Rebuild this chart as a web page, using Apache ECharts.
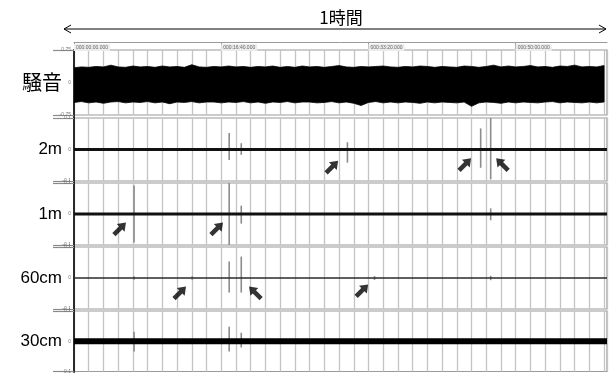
<!DOCTYPE html>
<html><head><meta charset="utf-8">
<script src="https://cdn.jsdelivr.net/npm/echarts@6/dist/echarts.min.js"></script>
<style>html,body{margin:0;padding:0;background:#fff}#c{width:613px;height:374px}</style>
</head><body><div id="c"></div>
<script>
// Recording length in seconds (a little over one hour is shown)
const timeMax = 3620;
const headerTicks = [0, 1000, 2000, 3000];
const headerLabels = ['000:00:00.000', '000:16:40.000', '000:33:20.000', '000:50:00.000'];

const panelNames = ['騒音', '2m', '1m', '60cm', '30cm'];
const panelRange = [0.75, 0.1, 0.1, 0.1, 0.1];
const panelRangeText = [['-0.75', '0', '0.75'], ['-0.1', '0', '0.1'], ['-0.1', '0', '0.1'], ['-0.1', '0', '0.1'], ['-0.1', '0', '0.1']];

// Ambient noise envelope, sampled every 50 s
const noiseTimes = [
  0, 50, 100, 150, 200, 250, 300, 350, 400, 450,
  500, 550, 600, 650, 700, 750, 800, 850, 900, 950,
  1000, 1050, 1100, 1150, 1200, 1250, 1300, 1350, 1400, 1450,
  1500, 1550, 1600, 1650, 1700, 1750, 1800, 1850, 1900, 1950,
  2000, 2050, 2100, 2150, 2200, 2250, 2300, 2350, 2400, 2450,
  2500, 2550, 2600, 2650, 2700, 2750, 2800, 2850, 2900, 2950,
  3000, 3050, 3100, 3150, 3200, 3250, 3300, 3350, 3400, 3450,
  3500, 3550, 3600];
const noiseUpper = [
  0.34, 0.36, 0.35, 0.37, 0.36, 0.40, 0.36, 0.35, 0.38, 0.36,
  0.37, 0.35, 0.38, 0.36, 0.37, 0.35, 0.41, 0.36, 0.35, 0.37,
  0.36, 0.38, 0.36, 0.37, 0.35, 0.37, 0.36, 0.38, 0.35, 0.37,
  0.35, 0.38, 0.36, 0.37, 0.35, 0.37, 0.39, 0.36, 0.35, 0.37,
  0.36, 0.37, 0.38, 0.36, 0.35, 0.37, 0.36, 0.38, 0.37, 0.35,
  0.37, 0.36, 0.35, 0.38, 0.37, 0.35, 0.37, 0.40, 0.36, 0.38,
  0.36, 0.37, 0.39, 0.36, 0.37, 0.35, 0.38, 0.37, 0.40, 0.36,
  0.37, 0.36, 0.39];
const noiseLower = [
  -0.46, -0.44, -0.47, -0.45, -0.48, -0.45, -0.44, -0.47, -0.45, -0.46,
  -0.44, -0.47, -0.45, -0.49, -0.45, -0.46, -0.44, -0.47, -0.45, -0.45,
  -0.47, -0.45, -0.46, -0.44, -0.47, -0.45, -0.48, -0.45, -0.46, -0.44,
  -0.47, -0.45, -0.45, -0.47, -0.46, -0.44, -0.47, -0.45, -0.48, -0.53,
  -0.46, -0.44, -0.47, -0.45, -0.47, -0.45, -0.46, -0.48, -0.45, -0.47,
  -0.45, -0.46, -0.47, -0.45, -0.55, -0.47, -0.45, -0.46, -0.48, -0.45,
  -0.47, -0.45, -0.46, -0.47, -0.45, -0.44, -0.47, -0.45, -0.46, -0.47,
  -0.45, -0.47, -0.45];

// Transient events per sensor: [time s, low, high]
const spikes2m = [[408, -0.004, 0.004], [1054, -0.033, 0.052], [1136, -0.017, 0.02], [1857, -0.042, 0.023], [2762, -0.058, 0.067], [2830, -0.095, 0.1]];
const spikes1m = [[408, -0.092, 0.092], [1054, -0.1, 0.1], [1136, -0.031, 0.027], [2830, -0.02, 0.018]];
const spikes60cm = [[408, -0.006, 0.006], [803, -0.006, 0.006], [1054, -0.047, 0.053], [1136, -0.047, 0.069], [2041, -0.006, 0.006], [2830, -0.007, 0.007]];
const spikes30cm = [[408, -0.034, 0.031], [1054, -0.034, 0.048], [1136, -0.021, 0.028]];

// Arrow markers: [time s, value, heading] (heading: 'ne' or 'nw')
const arrows2m = [[1753, -0.055, 'ne'], [2656, -0.047, 'ne'], [2908, -0.047, 'nw']];
const arrows1m = [[312, -0.047, 'ne'], [971, -0.047, 'ne']];
const arrows60cm = [[720, -0.047, 'ne'], [1230, -0.047, 'nw'], [1957, -0.04, 'ne']];

// Baseline trace widths per sensor
const baseWidth = [0, 3, 3, 1.6, 6];
const baseColor = ['#000', '#111', '#111', '#2a2a2a', '#000'];

const gridBoxes = [
  { top: 50, height: 65 },
  { top: 118, height: 63 },
  { top: 183, height: 62 },
  { top: 247, height: 62 },
  { top: 311, height: 61 }
];

const tinyFont = 'Liberation Sans';
const arrowPath = 'path://M6,0 L12,7 L8.5,7 L8.5,16 L3.5,16 L3.5,7 L0,7 Z';

const grids = gridBoxes.map(b => ({
  left: 74, right: 6, top: b.top, height: b.height,
  show: true, borderColor: '#9a9a9a', borderWidth: 1.2
}));
grids.push({ left: 74, right: 6, top: 50, bottom: 2 });

const xAxes = gridBoxes.map((b, i) => ({
  type: 'value', gridIndex: i, min: 0, max: timeMax, interval: 100,
  axisLine: { show: false }, axisTick: { show: false }, axisLabel: { show: false },
  splitLine: { show: true, lineStyle: { color: '#c4c4c4', width: 1.3 } }
}));
// header time ruler above the noise trace
xAxes.push({
  type: 'value', gridIndex: 0, position: 'top', offset: 8, min: 0, max: timeMax,
  axisLine: { show: true, lineStyle: { color: '#9a9a9a', width: 1 } },
  axisTick: { show: true, customValues: headerTicks, inside: true, length: 7, lineStyle: { color: '#9a9a9a' } },
  splitLine: { show: false },
  axisLabel: {
    show: true, inside: true, customValues: headerTicks, align: 'left', margin: 2,
    fontSize: 5, fontFamily: tinyFont, color: '#666',
    backgroundColor: '#ececec', padding: [1, 2],
    formatter: v => headerLabels[headerTicks.indexOf(v)]
  }
});
// frame axis for the continuous left rule
xAxes.push({ type: 'value', gridIndex: 5, show: false, min: 0, max: 1 });

const yAxes = gridBoxes.map((b, i) => {
  const r = panelRange[i];
  return {
    type: 'value', gridIndex: i, min: -r, max: r,
    name: panelNames[i], nameLocation: 'middle', nameRotate: 0, nameGap: 12,
    nameMoveOverlap: false,
    nameTextStyle: {
      fontSize: i === 0 ? 20 : 17, color: '#000', align: 'right',
      fontFamily: i === 0 ? 'Noto Sans CJK JP' : 'Liberation Sans'
    },
    axisLine: { show: false },
    axisTick: { show: true, customValues: [-r, r], length: 21, lineStyle: { color: '#8a8a8a', width: 1.2 } },
    splitLine: { show: false },
    axisLabel: {
      show: true, customValues: [-r, 0, r], margin: 3, fontSize: 5, fontFamily: tinyFont, color: '#777',
      formatter: v => panelRangeText[i][v < 0 ? 0 : (v > 0 ? 2 : 1)]
    }
  };
});
yAxes.push({
  type: 'value', gridIndex: 5, min: 0, max: 1,
  axisLine: { show: true, lineStyle: { color: '#2a2a2a', width: 2 } },
  axisTick: { show: false }, axisLabel: { show: false }, splitLine: { show: false }
});

const series = [];

// ambient noise band drawn as one polygon through the envelope
series.push({
  type: 'custom', xAxisIndex: 0, yAxisIndex: 0, clip: true, silent: true,
  data: [[0, 0]],
  renderItem: (params, api) => {
    const pts = [];
    noiseTimes.forEach((t, k) => pts.push(api.coord([t, noiseUpper[k]])));
    for (let k = noiseTimes.length - 1; k >= 0; k--) pts.push(api.coord([noiseTimes[k], noiseLower[k]]));
    return { type: 'polygon', shape: { points: pts }, style: { fill: '#000', stroke: '#000', lineWidth: 0.8 } };
  }
});

// sensor baselines
for (let i = 1; i < 5; i++) {
  series.push({
    type: 'line', xAxisIndex: i, yAxisIndex: i, showSymbol: false, silent: true,
    data: [[0, 0], [timeMax, 0]],
    lineStyle: { color: baseColor[i], width: baseWidth[i] }
  });
}

const spikeSets = [null, spikes2m, spikes1m, spikes60cm, spikes30cm];
for (let i = 1; i < 5; i++) {
  series.push({
    type: 'custom', xAxisIndex: i, yAxisIndex: i, clip: true, silent: true,
    data: spikeSets[i],
    encode: { x: 0, y: [1, 2] },
    renderItem: (params, api) => {
      const a = api.coord([api.value(0), api.value(1)]);
      const b = api.coord([api.value(0), api.value(2)]);
      return { type: 'line', shape: { x1: a[0], y1: a[1], x2: b[0], y2: b[1] }, style: { stroke: '#8c8c8c', lineWidth: 1.6 } };
    }
  });
}

const arrowSets = [null, arrows2m, arrows1m, arrows60cm, null];
for (let i = 1; i < 4; i++) {
  series.push({
    type: 'scatter', xAxisIndex: i, yAxisIndex: i, silent: true,
    symbol: arrowPath, symbolSize: [11, 17],
    itemStyle: { color: '#000' },
    data: arrowSets[i].map(a => ({ value: [a[0], a[1]], symbolRotate: a[2] === 'ne' ? -45 : 45 }))
  });
}

const chart = echarts.init(document.getElementById('c'), null, { renderer: 'canvas' });
chart.setOption({
  animation: false,
  backgroundColor: '#fff',
  grid: grids,
  xAxis: xAxes,
  yAxis: yAxes,
  series: series,
  graphic: [
    { type: 'text', style: { x: 341, y: 18, text: '1時間', textAlign: 'center', textVerticalAlign: 'middle', font: '17px "Noto Sans CJK JP"', fill: '#000' } },
    { type: 'line', shape: { x1: 64, y1: 29, x2: 606, y2: 29 }, style: { stroke: '#000', lineWidth: 1 } },
    { type: 'polyline', shape: { points: [[71, 25], [64, 29], [71, 33]] }, style: { stroke: '#000', lineWidth: 1, fill: null } },
    { type: 'polyline', shape: { points: [[599, 25], [606, 29], [599, 33]] }, style: { stroke: '#000', lineWidth: 1, fill: null } }
  ]
});
</script>
</body></html>
